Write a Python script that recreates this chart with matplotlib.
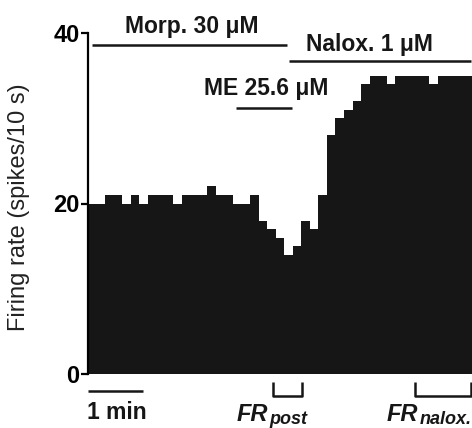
import numpy as np
import matplotlib
matplotlib.use('Agg')
import matplotlib.pyplot as plt

plt.rcParams['font.family'] = ['Liberation Sans', 'DejaVu Sans']

# firing rate per 10 s bin (spikes/10 s)
rate = [20, 20, 21, 21, 20, 21, 20, 21, 21, 21, 20, 21, 21, 21, 22, 21, 21, 20, 20, 21,
        18, 17, 16, 14, 15, 18, 17, 21, 28, 30, 31, 32, 34, 35, 35, 34, 35, 35, 35, 35,
        34, 35, 35, 35, 35]
edges = np.arange(len(rate) + 1)
yticks = [0, 20, 40]

fig = plt.figure(figsize=(4.72, 4.28), dpi=100)
ax = fig.add_axes([88 / 472, 54 / 428, 384 / 472, 341 / 428])

ax.stairs(rate, edges, fill=True, color='#161616', linewidth=0)

ax.set_xlim(0, len(rate))
ax.set_ylim(0, 40)
ax.set_yticks(yticks)
ax.set_xticks([])
for s in ['top', 'right', 'bottom']:
    ax.spines[s].set_visible(False)
ax.spines['left'].set_linewidth(1.6)
ax.spines['left'].set_bounds(0, 40)
ax.tick_params(axis='y', length=5, width=1.6, pad=1, labelsize=17)
for lab in ax.get_yticklabels():
    lab.set_fontweight('bold')
ax.set_ylabel('Firing rate (spikes/10 s)', fontsize=17, color='#222222')
ax.yaxis.set_label_coords(-0.15, 0.49)

kw = dict(color='#161616', lw=1.8, clip_on=False, solid_capstyle='butt')
tkw = dict(fontsize=16.5, fontweight='bold', color='#161616', ha='center', va='center')

# drug application bars
ax.plot([0.5, 23.3], [38.6, 38.6], **kw)
ax.text(12.2, 40.8, 'Morp. 30 \u03bcM', **tkw)
ax.plot([23.6, 44.9], [36.7, 36.7], **kw)
ax.text(33.0, 38.7, 'Nalox. 1 \u03bcM', **tkw)
ax.plot([17.3, 23.9], [31.2, 31.2], **kw)
ax.text(20.9, 33.5, 'ME 25.6 \u03bcM', **tkw)

# time scale bar (1 min)
ax.plot([0, 6.5], [-2.0, -2.0], **kw)
ax.text(3.4, -4.5, '1 min', **tkw)

# brackets for analysis windows
ax.plot([21.7, 21.7, 25.1, 25.1], [-0.9, -2.6, -2.6, -0.9], **kw)
ax.plot([38.3, 38.3, 44.9, 44.9], [-0.9, -2.6, -2.6, -0.9], **kw)
ikw = dict(fontweight='bold', style='italic', color='#161616', ha='left', va='baseline')
ax.text(17.4, -5.5, 'FR', fontsize=17, **ikw)
ax.text(21.2, -5.9, 'post', fontsize=13, **ikw)
ax.text(35.0, -5.5, 'FR', fontsize=17, **ikw)
ax.text(38.9, -5.9, 'nalox.', fontsize=13, **ikw)

fig.savefig('out.png', dpi=100)
